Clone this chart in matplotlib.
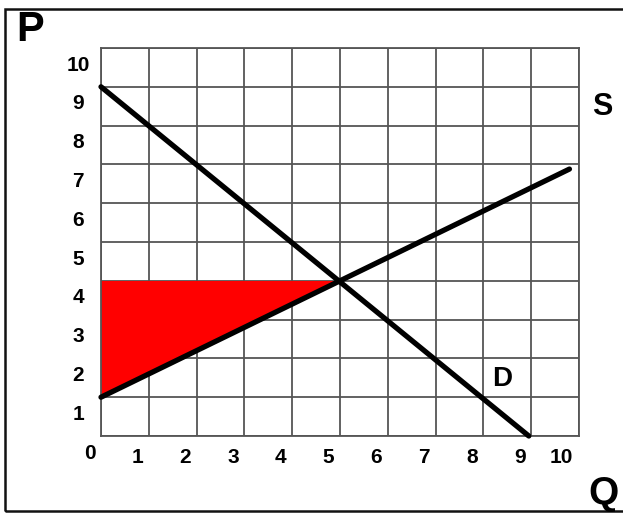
import matplotlib
matplotlib.use("Agg")
import matplotlib.pyplot as plt
from matplotlib.patches import Rectangle

plt.rcParams['font.family'] = ['Liberation Sans', 'DejaVu Sans']

# Data
q_ticks = [1, 2, 3, 4, 5, 6, 7, 8, 9, 10]
p_ticks = [1, 2, 3, 4, 5, 6, 7, 8, 9, 10]
demand_q = [0, 8.95]
demand_p = [9, 0]
supply_q = [0, 9.8]
supply_p = [1, 6.88]
surplus_q = [0, 0, 5]
surplus_p = [1, 4, 4]

W, H = 623, 513
fig = plt.figure(figsize=(W / 100, H / 100), dpi=100)
ax = fig.add_axes([101 / W, (H - 436) / H, 478 / W, 388 / H])
ax.set_xlim(0, 10)
ax.set_ylim(0, 10)
ax.set_xticks(range(11))
ax.set_yticks(range(11))
ax.tick_params(length=0, labelbottom=False, labelleft=False)
ax.grid(True, color='#555555', linewidth=1.3)
for s in ax.spines.values():
    s.set_color('#555555')
    s.set_linewidth(1.3)
ax.set_axisbelow(True)

ax.fill(surplus_q, surplus_p, color='#ff0000', zorder=2, linewidth=0)
ax.plot(demand_q, demand_p, color='black', linewidth=3.8, solid_capstyle='round', zorder=3, clip_on=False)
ax.plot(supply_q, supply_p, color='black', linewidth=3.8, solid_capstyle='round', zorder=3, clip_on=False)

for q in q_ticks:
    ax.text(q - 0.12, -0.56, str(q), ha='right', va='center', fontsize=15,
            fontweight='bold', clip_on=False)
for p in p_ticks:
    ax.text(-0.48, p - 0.44, str(p), ha='center', va='center', fontsize=15,
            fontweight='bold', clip_on=False)
ax.text(-0.23, -0.44, '0', ha='center', va='center', fontsize=15,
        fontweight='bold', clip_on=False)

ax.text(8.4, 1.47, 'D', ha='center', va='center', fontsize=20, fontweight='bold')

fig.text(30 / W, 1 - 30 / H, 'P', ha='center', va='center', fontsize=30, fontweight='bold')
fig.text(602 / W, 1 - 107 / H, 'S', ha='center', va='center', fontsize=22, fontweight='bold')
fig.text(603 / W, 1 - 494 / H, 'Q', ha='center', va='center', fontsize=28, fontweight='bold')

fig.patches.append(Rectangle((5 / W, 2 / H), 1.0, (511 - 9) / H, transform=fig.transFigure,
                             fill=False, edgecolor='#111111', linewidth=1.8))

fig.savefig('out.png', dpi=100)
